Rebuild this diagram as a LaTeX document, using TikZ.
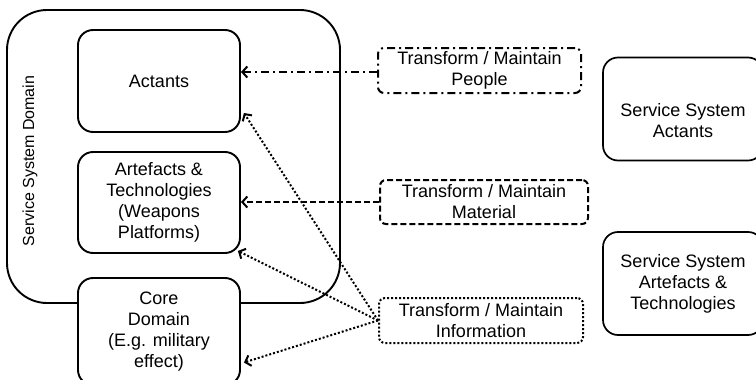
\documentclass[tikz,border=0pt]{standalone}
\usepackage{fontspec}
\setmainfont{Liberation Sans}
\usetikzlibrary{arrows.meta, calc, positioning}
\tikzset{
  dombox/.style  ={draw, rounded corners=40pt, line width=1.9pt},
  partbox/.style ={draw, fill=white, rounded corners=15pt, line width=1.9pt, align=center,
                   minimum width=162pt, font=\fontsize{18}{21}\selectfont},
  sysbox/.style  ={draw, rounded corners=15pt, line width=1.7pt, align=center,
                   minimum width=160pt, minimum height=103pt, font=\fontsize{18}{21}\selectfont},
  tfbox/.style   ={draw, rounded corners=6pt, line width=2pt, align=center, inner sep=2pt,
                   font=\fontsize{18}{21}\selectfont},
  ppl/.style     ={dash pattern=on 8pt off 4pt on 2pt off 4pt},                 % people
  mat/.style     ={dash pattern=on 6pt off 3pt},                               % material
  inf/.style     ={dash pattern=on 2pt off 2pt},                               % information
  flow/.style    ={-{Straight Barb[length=5pt,width=11pt]}, line width=2pt},
}
\begin{document}
\begin{tikzpicture}[x=1pt,y=-1pt]
  \useasboundingbox (0,0) rectangle (756,380);

  % --- service system domain ---
  \node[dombox, minimum width=333pt, minimum height=293pt] (dom) at (173.5,156.5) {};
  \node[rotate=90, font=\fontsize{16}{19}\selectfont] (domlbl) at (30,161) {Service System Domain};

  \node[partbox, minimum height=102pt] (act)  at (159,81)    {Actants};
  \node[partbox, minimum height=101pt] (art)  at (159,202.5) {Artefacts \&\\Technologies\\(Weapons\\Platforms)};
  \node[partbox, minimum height=107pt] (core) at (159,331.5) {Core\\Domain\\(E.g. military\\effect)};

  % --- transform / maintain ---
  \node[tfbox, ppl, minimum width=203pt, minimum height=45pt] (tp) at (479.5,70.5)  {Transform / Maintain\\People};
  \node[tfbox, mat, minimum width=208pt, minimum height=44pt] (tm) at (484,202)   {Transform / Maintain\\Material};
  \node[tfbox, inf, minimum width=204pt, minimum height=45pt] (ti) at (481,320.5) {Transform / Maintain\\Information};

  % --- service system ---
  \node[sysbox, text height=58pt] (ssa) at (683,109)   {Service System\\Actants};
  \node[sysbox]                   (sst) at (683,283.5) {Service System\\Artefacts \&\\Technologies};

  % --- flows ---
  \draw[flow, ppl] ([yshift=-1.5pt]tp.west) -- ([yshift=-1.5pt]tp.west -| act.east);
  \draw[flow, mat] (tm.west) -- (tm.west -| art.east);
  \draw[flow, inf] (ti.west) -- ([shift={(3,32)}]act.east);
  \draw[flow, inf] (ti.west) -- ([shift={(-3,-3)}]art.south east);
  \draw[flow, inf] (ti.west) -- ([shift={(3,31)}]core.east);
\end{tikzpicture}
\end{document}
